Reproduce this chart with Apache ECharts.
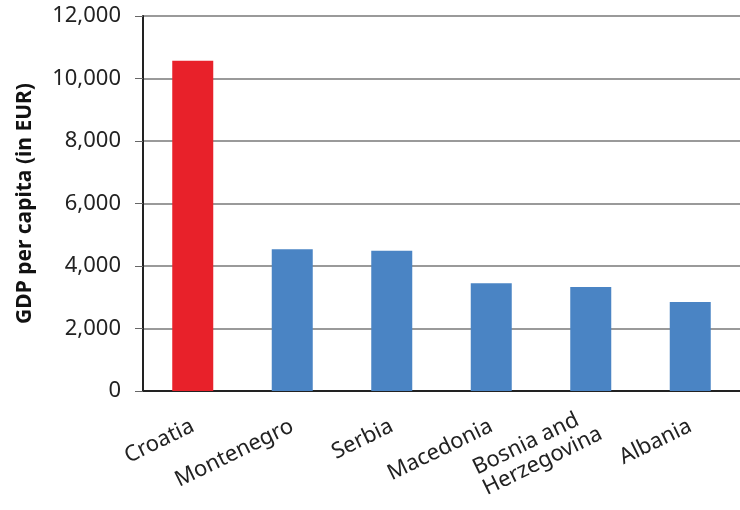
<!DOCTYPE html>
<html>
<head>
<meta charset="utf-8">
<script src="https://cdn.jsdelivr.net/npm/echarts@6/dist/echarts.min.js"></script>
<style>
  html, body { margin: 0; padding: 0; background: #fff; }
  #chart { width: 740px; height: 510px; }
</style>
</head>
<body>
<div id="chart"></div>
<script>
  // GDP per capita, EUR
  let countries = ['Croatia', 'Montenegro', 'Serbia', 'Macedonia', 'Bosnia and\nHerzegovina', 'Albania']
  let gdpValues = [10570, 4540, 4490, 3450, 3330, 2850]
  let barColors = ['#e8212a', '#4a84c4', '#4a84c4', '#4a84c4', '#4a84c4', '#4a84c4']
  let yTicks = [0, 2000, 4000, 6000, 8000, 10000, 12000]

  let myChart = echarts.init(document.getElementById('chart'))
  let font = '"Noto Sans", "Open Sans", sans-serif'

  let option = {
    animation: false,
    grid: {
      left: 143,
      top: 16,
      width: 606,
      height: 375
    },
    xAxis: {
      type: 'category',
      data: countries,
      axisLine: { lineStyle: { color: '#222', width: 2 } },
      axisTick: { length: 7, lineStyle: { color: '#555', width: 1 } },
      axisLabel: {
        rotate: 26,
        margin: 34,
        interval: 0,
        color: '#222',
        fontFamily: font,
        fontSize: 22,
        lineHeight: 23,
        formatter: function (v) {
          if (v.indexOf('\n') >= 0) {
            return v.split('\n').map(s => '{l|' + s + '}').join('\n')
          }
          return v
        },
        rich: {
          l: { width: 124, align: 'left', fontSize: 22, lineHeight: 23, color: '#222', fontFamily: font }
        }
      }
    },
    yAxis: {
      type: 'value',
      min: yTicks[0],
      max: yTicks[yTicks.length - 1],
      interval: yTicks[1] - yTicks[0],
      name: 'GDP per capita (in EUR)',
      nameLocation: 'middle',
      nameRotate: 90,
      nameGap: 107,
      nameTextStyle: { fontFamily: font, fontSize: 21, fontWeight: 'bold', color: '#111' },
      axisLine: { show: true, lineStyle: { color: '#222', width: 2 } },
      axisTick: { show: true, length: 8, lineStyle: { color: '#666', width: 1 } },
      axisLabel: {
        margin: 22,
        color: '#222',
        fontFamily: font,
        fontSize: 22,
        formatter: v => v.toLocaleString('en-US')
      },
      splitLine: { lineStyle: { color: '#9a9a9a', width: 2 } }
    },
    series: [
      {
        type: 'bar',
        barWidth: 41,
        data: gdpValues.map((v, i) => ({ value: v, itemStyle: { color: barColors[i] } }))
      }
    ]
  }
  myChart.setOption(option)
</script>
</body>
</html>
